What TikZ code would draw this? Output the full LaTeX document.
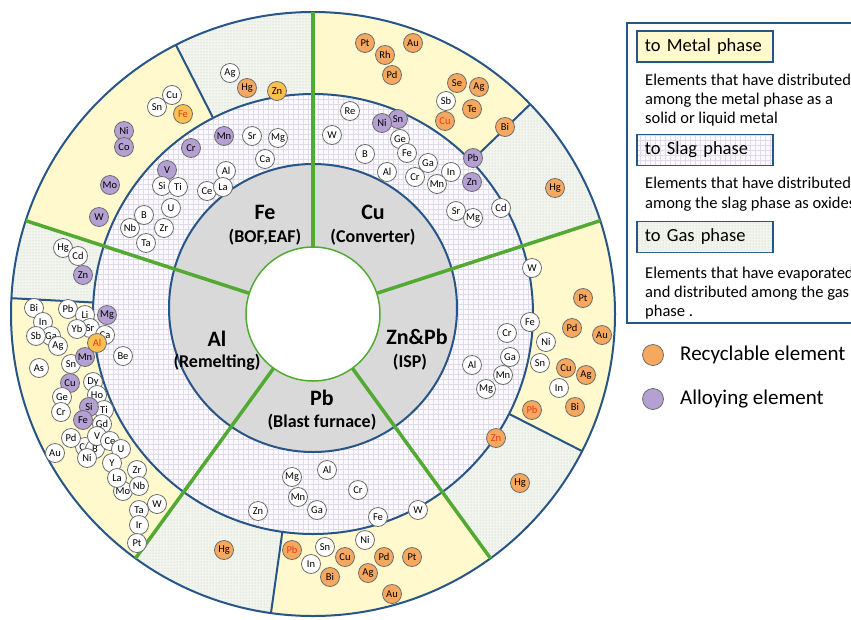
\documentclass[tikz,border=0pt]{standalone}
\usepackage{fontspec}
\setmainfont{Carlito}
\usetikzlibrary{patterns}
\definecolor{ringblue}{RGB}{40,85,135}
\definecolor{secgreen}{RGB}{82,170,50}
\definecolor{metalyel}{RGB}{255,249,205}
\definecolor{slagbg}{RGB}{251,250,254}
\definecolor{slaggrid}{RGB}{224,218,234}
\definecolor{gasbg}{RGB}{242,245,238}
\definecolor{gasdot}{RGB}{190,200,184}
\definecolor{discgray}{RGB}{217,217,217}
\definecolor{recorange}{RGB}{247,168,95}
\definecolor{yelorange}{RGB}{250,192,80}
\definecolor{alloypurple}{RGB}{180,160,210}
\definecolor{elborder}{RGB}{110,110,110}
\definecolor{redtext}{RGB}{235,55,25}
\newcommand\annseg[3]{\path[#3] ({-#1}:220) arc[start angle={-#1}, end angle={-#2}, radius=220] -- ({-#2}:302) arc[start angle={-#2}, end angle={-#1}, radius=302] -- cycle;}
\tikzset{
  el/.style={circle, draw=elborder, line width=0.8pt, minimum size=19pt, inner sep=0pt, fill=white, font=\fontsize{10.5}{11}\selectfont},
  elo/.style={el, fill=recorange},
  elp/.style={el, fill=alloypurple},
  elr/.style={el, fill=recorange, text=redtext},
  ely/.style={el, fill=yelorange},
  elyr/.style={el, fill=yelorange, text=redtext},
  seclab/.style={font=\bfseries\fontsize{22}{23}\selectfont},
  subllab/.style={font=\bfseries\fontsize{18}{20}\selectfont},
  metalfill/.style={fill=metalyel},
  gasfill/.style={fill=gasbg, postaction={pattern=dots, pattern color=gasdot}},
  legbox/.style={draw=ringblue, line width=1.8pt, anchor=west, inner xsep=8pt, text width=120pt, align=left, minimum height=31pt, font=\fontsize{18.5}{20}\selectfont},
  legtext/.style={anchor=west, inner sep=0pt, font=\fontsize{16.5}{18}\selectfont},
  legkey/.style={anchor=west, inner sep=0pt, font=\fontsize{21}{22}\selectfont},
}
\begin{document}
\begin{tikzpicture}[x=1pt,y=-1pt]
\useasboundingbox (0,0) rectangle (851,619);
\clip (0,0) rectangle (851,619);
\fill[white] (0,0) rectangle (851,619);
\begin{scope}[shift={(313,314)}]
  % outer ring: metal and gas
  \annseg{117}{162}{metalfill}
  \annseg{177}{234}{metalfill}
  \annseg{262}{306}{metalfill}
  \annseg{333}{378}{metalfill}
  \annseg{44}{90}{metalfill}
  \annseg{90}{117}{gasfill}
  \annseg{162}{177}{gasfill}
  \annseg{234}{262}{gasfill}
  \annseg{306}{333}{gasfill}
  \annseg{18}{44}{gasfill}
  % slag ring
  \begin{scope}
    \clip (0,0) circle (220);
    \fill[slagbg] (-220,-220) rectangle (220,220);
    \draw[slaggrid, line width=0.5pt, step=5pt] (-220,220) grid (220,-220);
  \end{scope}
  % gray disc
  \fill[discgray] (0,-6) circle (144);
  \draw[ringblue, line width=2pt] (0,-6) circle (144);
  \draw[ringblue, line width=2pt] (0,0) circle (220);
  \draw[ringblue, line width=2pt] (0,0) circle (302);
  \foreach \a in {117,177,262,333,44} \draw[ringblue, line width=2pt] ({-\a}:220) -- ({-\a}:302);
  \foreach \a in {18,90,162,234,306} \draw[secgreen, line width=3.5pt] ({-\a}:60) -- ({-\a}:302);
  \draw[secgreen, line width=1.5pt, fill=white] (0,0) circle (67);
\end{scope}
% sector labels
\node[seclab] (lFe) at (265,212) {Fe};
\node[subllab] (lFe2) at (265,237) {(BOF,EAF)};
\node[seclab] (lCu) at (373,212) {Cu};
\node[subllab] (lCu2) at (373,237) {(Converter)};
\node[seclab] (lAl) at (217,339) {Al};
\node[subllab] (lAl2) at (217,362) {(Remelting)};
\node[seclab] (lPb) at (322,398) {Pb};
\node[subllab] (lPb2) at (322,422) {(Blast furnace)};
\node[seclab] (lZn) at (417,337) {Zn\&Pb};
\node[subllab] (lZn2) at (410,362) {(ISP)};
% Fe gas
\node[el] (fgAg) at (230,73) {Ag};
\node[elo] (fgHg) at (247,88) {Hg};
\node[ely] (fgZn) at (277,91) {Zn};
% Fe metal
\node[el] (fmCu) at (172,95) {Cu};
\node[el] (fmSn) at (157,107) {Sn};
\node[elyr] (fmFe) at (183,114) {Fe};
\node[elp] (fmNi) at (124,131) {Ni};
\node[elp] (fmCo) at (124,147) {Co};
\node[elp] (fmMo) at (110,185) {Mo};
\node[elp] (fmW) at (99,217) {W};
% Fe slag
\node[elp] (fsMn) at (224,136) {Mn};
\node[el] (fsSr) at (252,136) {Sr};
\node[el] (fsMg) at (278,138) {Mg};
\node[el] (fsCa) at (265,159) {Ca};
\node[elp] (fsCr) at (191,148) {Cr};
\node[el] (fsAl) at (226,171) {Al};
\node[el] (fsCe) at (207,191) {Ce};
\node[el] (fsLa) at (223,187) {La};
\node[elp] (fsV) at (167,170) {V};
\node[el] (fsSi) at (162,186) {Si};
\node[el] (fsTi) at (178,187) {Ti};
\node[el] (fsU) at (171,208) {U};
\node[el] (fsB) at (144,215) {B};
\node[el] (fsZr) at (164,228) {Zr};
\node[el] (fsNb) at (130,228) {Nb};
\node[el] (fsTa) at (146,243) {Ta};
% Al gas
\node[el] (agHg) at (63,248) {Hg};
\node[el] (agCd) at (78,256) {Cd};
\node[elp] (agZn) at (83,275) {Zn};
% Al metal
\node[el] (amBi) at (34,308) {Bi};
\node[el] (amIn) at (43,322) {In};
\node[el] (amGa) at (51,336) {Ga};
\node[el] (amSb) at (36,336) {Sb};
\node[el] (amAg) at (58,346) {Ag};
\node[el] (amPb) at (68,309) {Pb};
\node[el] (amLi) at (85,315) {Li};
\node[el] (amSr) at (90,328) {Sr};
\node[el] (amYb) at (77,329) {Yb};
\node[el] (amCa) at (105,335) {Ca};
\node[elp] (amMg) at (107,315) {Mg};
\node[el] (amSn) at (71,364) {Sn};
\node[elp] (amMn) at (85,357) {Mn};
\node[elyr] (amAl) at (97,343) {Al};
\node[el] (amAs) at (39,368) {As};
\node[elp] (amCu) at (70,383) {Cu};
\node[el] (amDy) at (93,382) {Dy};
\node[el] (amGe) at (62,397) {Ge};
\node[el] (amHo) at (97,395) {Ho};
\node[el] (amCr) at (61,412) {Cr};
\node[el] (amTi) at (104,410) {Ti};
\node[elp] (amSi) at (89,407) {Si};
\node[elp] (amFe) at (83,420) {Fe};
\node[el] (amGd) at (102,424) {Gd};
\node[el] (amCo) at (85,447) {Co};
\node[el] (amB) at (95,449) {B};
\node[el] (amV) at (97,436) {V};
\node[el] (amPd) at (71,438) {Pd};
\node[el] (amCe) at (110,441) {Ce};
\node[el] (amU) at (121,449) {U};
\node[el] (amNi) at (87,458) {Ni};
\node[el] (amAu) at (55,453) {Au};
\node[el] (amY) at (112,463) {Y};
\node[el] (amZr) at (137,470) {Zr};
\node[el] (amMo) at (123,491) {Mo};
\node[el] (amLa) at (117,478) {La};
\node[el] (amNb) at (139,486) {Nb};
\node[el] (amW) at (157,504) {W};
\node[el] (amTa) at (139,510) {Ta};
\node[el] (amIr) at (139,525) {Ir};
\node[el] (amPt) at (137,543) {Pt};
% Al slag
\node[el] (asBe) at (123,356) {Be};
% Pb gas
\node[elo] (pgHg) at (224,550) {Hg};
% Pb metal
\node[elr] (pmPb) at (292,550) {Pb};
\node[el] (pmSn) at (325,547) {Sn};
\node[el] (pmIn) at (311,564) {In};
\node[elo] (pmCu) at (345,557) {Cu};
\node[elo] (pmBi) at (330,577) {Bi};
\node[el] (pmNi) at (365,540) {Ni};
\node[elo] (pmPd) at (384,557) {Pd};
\node[elo] (pmAg) at (368,573) {Ag};
\node[elo] (pmPt) at (412,557) {Pt};
\node[elo] (pmAu) at (392,594) {Au};
% Pb slag
\node[el] (psMg) at (292,477) {Mg};
\node[el] (psAl) at (327,470) {Al};
\node[el] (psMn) at (298,497) {Mn};
\node[el] (psGa) at (317,510) {Ga};
\node[el] (psZn) at (258,511) {Zn};
\node[el] (psCr) at (358,490) {Cr};
\node[el] (psFe) at (378,517) {Fe};
\node[el] (psW) at (418,510) {W};
% Zn&Pb slag
\node[el] (zsW) at (532,268) {W};
\node[el] (zsFe) at (530,322) {Fe};
\node[el] (zsCr) at (507,333) {Cr};
\node[el] (zsGa) at (510,357) {Ga};
\node[el] (zsAl) at (472,365) {Al};
\node[el] (zsMn) at (503,375) {Mn};
\node[el] (zsMg) at (486,389) {Mg};
\node[elr] (zsZn) at (496,438) {Zn};
% Zn&Pb metal
\node[el] (zmNi) at (546,342) {Ni};
\node[el] (zmSn) at (540,363) {Sn};
\node[elo] (zmPt) at (583,298) {Pt};
\node[elo] (zmPd) at (572,328) {Pd};
\node[elo] (zmAu) at (602,335) {Au};
\node[elo] (zmCu) at (566,368) {Cu};
\node[elo] (zmAg) at (586,375) {Ag};
\node[el] (zmIn) at (559,388) {In};
\node[elo] (zmBi) at (575,407) {Bi};
\node[elr] (zmPb) at (532,410) {Pb};
% Zn&Pb gas
\node[elo] (zgHg) at (520,483) {Hg};
% Cu metal
\node[elo] (cmPt) at (365,43) {Pt};
\node[elo] (cmRh) at (385,55) {Rh};
\node[elo] (cmAu) at (413,43) {Au};
\node[elo] (cmPd) at (392,75) {Pd};
\node[elo] (cmSe) at (457,83) {Se};
\node[elo] (cmAg) at (479,87) {Ag};
\node[el] (cmSb) at (446,101) {Sb};
\node[elo] (cmTe) at (472,109) {Te};
\node[elr] (cmCu) at (445,121) {Cu};
\node[elo] (cmBi) at (505,127) {Bi};
% Cu slag
\node[el] (csRe) at (350,111) {Re};
\node[elp] (csSn) at (398,119) {Sn};
\node[elp] (csNi) at (382,123) {Ni};
\node[el] (csW) at (332,135) {W};
\node[el] (csGe) at (400,139) {Ge};
\node[el] (csFe) at (407,153) {Fe};
\node[el] (csB) at (365,154) {B};
\node[el] (csAl) at (387,172) {Al};
\node[el] (csGa) at (428,163) {Ga};
\node[el] (csCr) at (415,177) {Cr};
\node[el] (csIn) at (451,172) {In};
\node[el] (csMn) at (437,184) {Mn};
\node[elp] (csPb) at (473,158) {Pb};
\node[elp] (csZn) at (472,182) {Zn};
\node[el] (csSr) at (456,211) {Sr};
\node[el] (csMg) at (473,218) {Mg};
\node[el] (csCd) at (501,208) {Cd};
% Cu gas
\node[elo] (cgHg) at (555,188) {Hg};
% legend
\draw[ringblue, line width=1.8pt] (627,23) rectangle (900,323);
\node[legbox, fill=metalyel] (lbMetal) at (636,46.5) {to Metal phase};
\node[legtext] (ltM1) at (645,80) {Elements that have distributed};
\node[legtext] (ltM2) at (645,100) {among the metal phase as a};
\node[legtext] (ltM3) at (645,119) {solid or liquid metal};
\node[legbox, fill=slagbg, path picture={\draw[slaggrid, line width=0.5pt, step=5pt] (path picture bounding box.south west) grid (path picture bounding box.north east);}] (lbSlag) at (636,150) {to Slag phase};
\node[legtext] (ltS1) at (645,183) {Elements that have distributed};
\node[legtext] (ltS2) at (645,204) {among the slag phase as oxides};
\node[legbox, gasfill] (lbGas) at (636,237) {to Gas phase};
\node[legtext] (ltG1) at (645,274) {Elements that have evaporated};
\node[legtext] (ltG2) at (645,293) {and distributed among the gas};
\node[legtext] (ltG3) at (645,312) {phase .};
\node[elo, minimum size=21pt] (keyO) at (653,355) {};
\node[legkey] (keyOt) at (680,355) {Recyclable element};
\node[elp, minimum size=21pt] (keyP) at (653,399) {};
\node[legkey] (keyPt) at (680,399) {Alloying element};
\end{tikzpicture}
\end{document}
